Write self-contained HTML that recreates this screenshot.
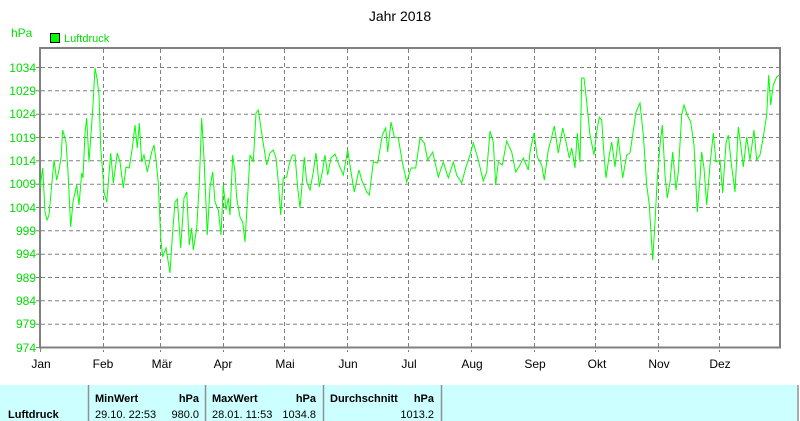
<!DOCTYPE html>
<html><head><meta charset="utf-8"><style>
body{margin:0;width:800px;height:421px;overflow:hidden;background:#fff;font-family:"Liberation Sans",sans-serif}
</style></head><body>
<svg width="800" height="421" xmlns="http://www.w3.org/2000/svg" style="position:absolute;left:0;top:0" font-family="Liberation Sans, sans-serif">
<rect width="800" height="421" fill="#fff"/>
<text x="400" y="21" font-size="14" text-anchor="middle" fill="#000">Jahr 2018</text>
<text x="11" y="37" font-size="12" fill="#00dd00">hPa</text>
<rect x="50.5" y="33.5" width="9" height="9" fill="#00ff00" stroke="#000"/>
<text x="64" y="42" font-size="11" fill="#00dd00">Luftdruck</text>
<g stroke="#808080" stroke-dasharray="4,3" stroke-width="1">
<line x1="41" x2="779" y1="67.5" y2="67.5"/><line x1="41" x2="779" y1="90.8" y2="90.8"/>
<line x1="41" x2="779" y1="114.2" y2="114.2"/><line x1="41" x2="779" y1="137.5" y2="137.5"/>
<line x1="41" x2="779" y1="160.8" y2="160.8"/><line x1="41" x2="779" y1="184.2" y2="184.2"/>
<line x1="41" x2="779" y1="207.5" y2="207.5"/><line x1="41" x2="779" y1="230.8" y2="230.8"/>
<line x1="41" x2="779" y1="254.2" y2="254.2"/><line x1="41" x2="779" y1="277.5" y2="277.5"/>
<line x1="41" x2="779" y1="300.8" y2="300.8"/><line x1="41" x2="779" y1="324.2" y2="324.2"/>
<line y1="49" y2="352" x1="103.5" x2="103.5"/><line y1="49" y2="352" x1="160.5" x2="160.5"/>
<line y1="49" y2="352" x1="223.5" x2="223.5"/><line y1="49" y2="352" x1="284.5" x2="284.5"/>
<line y1="49" y2="352" x1="347.5" x2="347.5"/><line y1="49" y2="352" x1="408.5" x2="408.5"/>
<line y1="49" y2="352" x1="471.5" x2="471.5"/><line y1="49" y2="352" x1="534.5" x2="534.5"/>
<line y1="49" y2="352" x1="595.5" x2="595.5"/><line y1="49" y2="352" x1="658.5" x2="658.5"/>
<line y1="49" y2="352" x1="719.5" x2="719.5"/>
</g>
<g stroke="#808080" stroke-width="1"><line x1="36" x2="41" y1="67.5" y2="67.5"/><line x1="36" x2="41" y1="90.8" y2="90.8"/><line x1="36" x2="41" y1="114.2" y2="114.2"/><line x1="36" x2="41" y1="137.5" y2="137.5"/><line x1="36" x2="41" y1="160.8" y2="160.8"/><line x1="36" x2="41" y1="184.2" y2="184.2"/><line x1="36" x2="41" y1="207.5" y2="207.5"/><line x1="36" x2="41" y1="230.8" y2="230.8"/><line x1="36" x2="41" y1="254.2" y2="254.2"/><line x1="36" x2="41" y1="277.5" y2="277.5"/><line x1="36" x2="41" y1="300.8" y2="300.8"/><line x1="36" x2="41" y1="324.2" y2="324.2"/><line x1="36" x2="41" y1="347.5" y2="347.5"/><line x1="40.5" x2="40.5" y1="347" y2="352"/></g>
<rect x="40" y="48" width="740" height="299.5" fill="none" stroke="#808080" stroke-width="2"/>
<g font-size="12" fill="#00dd00" text-anchor="end">
<text x="36" y="72">1034</text><text x="36" y="95">1029</text><text x="36" y="118">1024</text><text x="36" y="142">1019</text><text x="36" y="165">1014</text><text x="36" y="188">1009</text><text x="36" y="212">1004</text><text x="36" y="235">999</text><text x="36" y="258">994</text><text x="36" y="282">989</text><text x="36" y="305">984</text><text x="36" y="328">979</text><text x="36" y="352">974</text>
</g>
<g font-size="12" fill="#000" text-anchor="middle">
<text x="41" y="368">Jan</text><text x="103" y="368">Feb</text><text x="162" y="368">Mär</text><text x="223" y="368">Apr</text><text x="285" y="368">Mai</text><text x="348" y="368">Jun</text><text x="409" y="368">Jul</text><text x="472" y="368">Aug</text><text x="535" y="368">Sep</text><text x="597" y="368">Okt</text><text x="659" y="368">Nov</text><text x="720" y="368">Dez</text>
</g>
<polyline fill="none" stroke="#00ff00" stroke-width="1" points="40,188 42.7,168 45,212 47,220 49,215 52,182 54,160 56.7,180 59,170 61,158 62.7,130 66,142 68,172 70.7,227 73,202 76.7,185 79,205 81.7,173 83,178 85,133 86.7,118 89,162 92.7,110 95,68 97.3,80 99,95 100.7,148 102.7,172 104,192 106.7,202 108.3,183 110.7,153 113.3,183 117.3,153 120,162 123.3,188 126,167 129.3,168 132.7,145 135,125 137.3,148 139.3,123 141.7,162 144,155 147.3,172 151.7,152 154,145 156,160 158.3,183 160.7,238 162.7,257 166,248 170,273 172.3,237 175,202 177.3,199 180.7,248 184,198 186.7,192 189.3,245 191.7,228 193.3,250 196.7,228 199.3,183 201.7,118 204,158 207.3,235 210,187 212.7,172 215,202 218.3,210 221,235 223.3,185 226,210 228.3,198 230,215 232.7,155 235,172 236.7,198 240,217 242.7,222 245,242 247.3,202 250,155 253.3,162 256,113 258.3,110 261.7,133 264,148 266.7,165 270,153 273.3,150 276,158 278.3,182 280.7,215 283.3,178 286.7,177 289,165 292.3,155 295,155 297.7,188 300,208 302.3,182 304.3,157 306.7,182 310,190 313.3,172 316,153 319.3,187 322.3,172 325,155 327.7,175 331,158 335,154 339,165 343.3,175 347.7,150 351,172 354.3,192 359,170 361.7,180 366.7,192 369.3,195 373.3,162 377.7,163 382.3,135 385.7,128 387.7,152 391,122 394.3,137 398.3,138 402.3,162 406.7,182 411,168 415.7,168 420,138 424.3,143 427.7,160 432.7,152 438.3,177 443.3,162 448.3,178 453.3,162 456.7,175 461.7,183 465.7,168 470,155 473.3,143 478.3,160 483.3,181 486.7,172 490,131 493.3,142 495.7,185 498.3,162 502.3,165 506.7,141 511.7,152 515.7,172 520,165 523.3,158 528.3,170 530,152 534,133 537.3,157 541.7,165 544.3,180 548.3,150 551.7,137 554.3,126 558.3,153 562.7,128 566,142 569.3,158 571.7,148 575,168 577.3,133 580,162 581.7,78 584,78 586.7,102 590,135 594,155 596.7,132 599.3,117 601.7,120 604,155 606,178 609.3,155 611.7,142 615,167 618.3,138 622.7,178 626.7,155 630,153 632.7,135 636,112 640,103 643.3,135 646.7,185 649.3,205 652.7,260 655,222 657.3,178 660,145 662.3,125 665,175 667.3,198 670,182 672.7,152 676,190 678.3,172 681.7,115 684,105 687.3,115 690.7,122 694,145 697.3,212 700,178 701.7,152 704,168 706.7,205 710,165 713.3,133 716,162 720,160 722.7,193 726,143 728.3,135 731.7,167 735,192 738.3,127 740.7,145 743.3,167 746.7,137 750,160 754,130 756.7,160 760,155 763.3,137 766.7,115 768.7,75 770.7,105 773.3,85 776.7,77 779.3,75"/>
<rect x="0" y="385" width="797" height="36" fill="#ccffff"/>
<g stroke="#909090" stroke-width="1.5"><line x1="88.5" x2="88.5" y1="385" y2="421"/><line x1="205.5" x2="205.5" y1="385" y2="421"/><line x1="323.5" x2="323.5" y1="385" y2="421"/><line x1="441.5" x2="441.5" y1="385" y2="421"/><line x1="798" x2="798" y1="385" y2="421"/></g>
<g font-size="11" fill="#000">
<text x="8" y="418" font-weight="bold">Luftdruck</text>
<text x="95" y="402" font-weight="bold">MinWert</text><text x="199" y="402" font-weight="bold" text-anchor="end">hPa</text>
<text x="95" y="418">29.10.  22:53</text><text x="199" y="418" text-anchor="end">980.0</text>
<text x="212" y="402" font-weight="bold">MaxWert</text><text x="316" y="402" font-weight="bold" text-anchor="end">hPa</text>
<text x="212" y="418">28.01.  11:53</text><text x="316" y="418" text-anchor="end">1034.8</text>
<text x="330" y="402" font-weight="bold">Durchschnitt</text><text x="434" y="402" font-weight="bold" text-anchor="end">hPa</text>
<text x="434" y="418" text-anchor="end">1013.2</text>
</g>
</svg>
</body></html>
